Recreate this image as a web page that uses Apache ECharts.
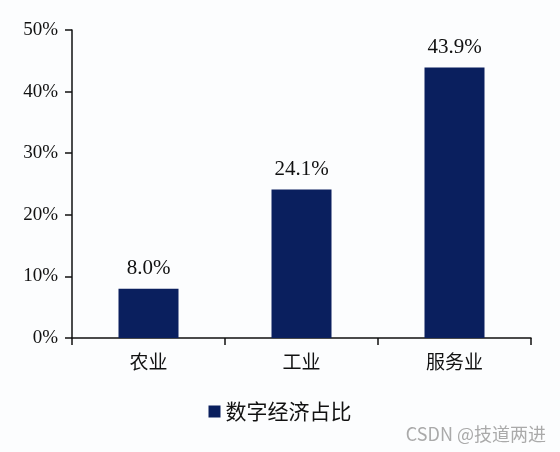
<!DOCTYPE html>
<html><head><meta charset="utf-8">
<script src="https://cdn.jsdelivr.net/npm/echarts@6/dist/echarts.min.js"></script>
<style>html,body{margin:0;padding:0;background:#fcfdfe;}#c{width:560px;height:452px;}</style>
</head><body><div id="c"></div>
<script>
const categories = ['农业', '工业', '服务业'];
const seriesName = '数字经济占比';
const values = [8.0, 24.1, 43.9];
const yTicks = [0, 10, 20, 30, 40, 50];

const chart = echarts.init(document.getElementById('c'));
chart.setOption({
  backgroundColor: '#fcfdfe',
  animation: false,
  grid: { left: 72, right: 29, top: 30, bottom: 114 },
  legend: {
    data: [seriesName], bottom: 25, left: 'center',
    icon: 'rect', itemWidth: 12, itemHeight: 12, itemGap: 9,
    textStyle: { fontFamily: 'Noto Sans CJK SC', fontSize: 21, color: '#111' }
  },
  xAxis: {
    type: 'category', data: categories,
    axisLine: { lineStyle: { color: '#111', width: 1.5 } },
    axisTick: { show: true, alignWithLabel: false, length: 7, lineStyle: { color: '#111', width: 1.5 } },
    axisLabel: { margin: 14, fontFamily: 'Noto Sans CJK SC', fontSize: 19, color: '#111' }
  },
  yAxis: {
    type: 'value', min: yTicks[0], max: yTicks[yTicks.length - 1], interval: 10,
    splitLine: { show: false },
    axisLine: { show: true, lineStyle: { color: '#111', width: 1.5 } },
    axisTick: { show: true, length: 7, lineStyle: { color: '#111', width: 1.5 } },
    axisLabel: { margin: 14, formatter: v => v + '%', fontFamily: 'Liberation Serif', fontSize: 19, color: '#111' }
  },
  series: [{
    name: seriesName, type: 'bar', data: values, barWidth: 60,
    itemStyle: { color: '#0a1f5e' },
    label: { show: true, position: 'top', distance: 10, formatter: p => p.value.toFixed(1) + '%',
      fontFamily: 'Liberation Serif', fontSize: 21, color: '#111' }
  }],
  graphic: [{
    type: 'text', right: 14, bottom: 9,
    style: { text: 'CSDN @技道两进', fontFamily: 'Noto Sans CJK SC', fontSize: 18, fill: '#aaaaaa' }
  }]
});
</script></body></html>
